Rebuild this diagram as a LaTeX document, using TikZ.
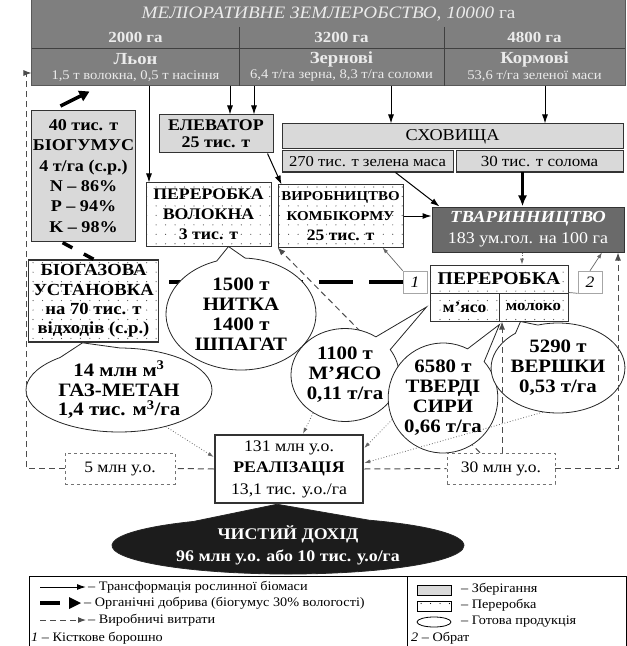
\documentclass[tikz,border=0pt]{standalone}
\usepackage{fontspec}
\setmainfont{Liberation Serif}[FakeStretch=1.1]
\usetikzlibrary{arrows.meta, shapes.geometric, shapes.callouts, patterns, calc}

\definecolor{fieldgray}{HTML}{7F7F7F}
\definecolor{stockgray}{HTML}{6A6A6A}
\definecolor{storegray}{HTML}{D9D9D9}
\definecolor{netblack}{HTML}{1C1C1C}

\pgfdeclarepatternformonly{sparsedots}{\pgfqpoint{-1pt}{-1pt}}{\pgfqpoint{10pt}{10pt}}{\pgfqpoint{9.5pt}{9.5pt}}%
  {\pgfpathcircle{\pgfqpoint{4.7pt}{4.7pt}}{0.6pt}\pgfusepath{fill}}

\newcommand{\fsize}[2]{\fontsize{#1}{#2}\selectfont}

\tikzset{
  box/.style={rectangle, draw=black!80, line width=1bp, inner sep=0pt, align=center},
  storebox/.style={box, fill=storegray},
  procbox/.style={box, preaction={fill=white}, pattern=sparsedots, pattern color=black!70},
  headtxt/.style={text=white!92!black, inner sep=0pt},
  numbox/.style={rectangle, draw=black!35, fill=white, line width=0.6bp, minimum width=24bp, minimum height=22bp, inner sep=0pt, font=\fsize{16}{18}\itshape},
  costbox/.style={box, fill=white, draw=black!55, dashed, line width=0.8bp, font=\fsize{16}{18}},
  bubble/.style={ellipse callout, draw=black!85, line width=0.8bp, fill=white, inner sep=0pt, align=center, callout pointer arc=22, font=\fsize{19}{20}\bfseries},
  bio/.style={-{Latex[length=9bp,width=6bp]}, line width=1bp},
  fert/.style={line width=3.5bp, dash pattern=on 34bp off 16bp},
  fertarr/.style={line width=3.5bp, -{Triangle[length=10bp,width=11bp]}},
  cost/.style={black!70, line width=1bp, dash pattern=on 6bp off 4bp},
  costarr/.style={cost, -{Latex[length=8bp,width=6bp]}},
  sale/.style={black!60, line width=0.8bp, dotted, -{Latex[length=6bp,width=4bp]}},
  link/.style={black!60, line width=0.7bp, -{Latex[length=6bp,width=4bp]}},
  legtxt/.style={anchor=west, inner sep=1bp, font=\fsize{13}{15}}
}

\begin{document}
\begin{tikzpicture}[x=1bp, y=-1bp]
  \useasboundingbox (0,0) rectangle (627,646);

  % Field (header)
  \node[box, fill=fieldgray, draw=black!65, minimum width=593bp, minimum height=86bp] (field) at (328.5,43) {};
  \draw[black!75, line width=0.8bp] (32,48) -- (625,48);
  \foreach \xcol in {239,444}
    \draw[black!75, line width=0.8bp] (\xcol,27) -- (\xcol,86);
  \node[headtxt, font=\fsize{17.5}{19}] (title) at (328.5,14) {\textit{МЕЛІОРАТИВНЕ ЗЕМЛЕРОБСТВО, 10000} га};
  \node[headtxt, font=\fsize{15.5}{17}\bfseries] (areaflax) at (135.5,37) {2000 га};
  \node[headtxt, font=\fsize{15.5}{17}\bfseries] (areagrain) at (341.5,37) {3200 га};
  \node[headtxt, font=\fsize{15.5}{17}\bfseries] (areafodder) at (534.5,37) {4800 га};
  \node[headtxt, font=\fsize{17}{19}\bfseries] (flax) at (135.5,59) {Льон};
  \node[headtxt, font=\fsize{17}{19}\bfseries] (grain) at (341.5,59) {Зернові};
  \node[headtxt, font=\fsize{17}{19}\bfseries] (fodder) at (534.5,59) {Кормові};
  \node[headtxt, font=\fsize{13.3}{15}] (flaxyield) at (135.5,76) {1,5 т волокна, 0,5 т насіння};
  \node[headtxt, font=\fsize{13.3}{15}] (grainyield) at (341.5,76) {6,4 т/га зерна, 8,3 т/га соломи};
  \node[headtxt, font=\fsize{13.3}{15}] (fodderyield) at (534.5,76) {53,6 т/га зеленої маси};

  % Storage
  \node[storebox, minimum width=114bp, minimum height=38bp, font=\fsize{16.3}{17.5}\bfseries] (elev) at (216,134) {ЕЛЕВАТОР\\25 тис. т};
  \node[storebox, minimum width=341bp, minimum height=25bp, font=\fsize{16.6}{19}] (store) at (452.5,136.5) {СХОВИЩА};
  \node[storebox, minimum width=171bp, minimum height=21bp, font=\fsize{15.2}{17}] (green) at (367.5,161.5) {270 тис. т зелена маса};
  \node[storebox, minimum width=167bp, minimum height=21bp, font=\fsize{15.5}{17}] (straw) at (539.5,161.5) {30 тис. т солома};
  \node[storebox, minimum width=103bp, minimum height=130bp, font=\fsize{16.5}{20.5}\bfseries] (biogum) at (83.5,176) {40 тис. т\\БІОГУМУС\\4 т/га (с.р.)\\N – 86\%\\P – 94\%\\K – 98\%};

  % Processing
  \node[procbox, minimum width=125bp, minimum height=63bp, font=\fsize{16.2}{20}\bfseries] (perevol) at (208.5,214.5) {ПЕРЕРОБКА\\ВОЛОКНА\\3 тис. т};
  \node[procbox, minimum width=125bp, minimum height=62bp, font=\fsize{13.6}{20}\bfseries] (vyrob) at (340.5,216) {ВИРОБНИЦТВО\\КОМБІКОРМУ\\{\fsize{16}{20}25 тис. т}};
  \node[box, fill=stockgray, minimum width=192bp, minimum height=45bp, text=white, font=\fsize{16.4}{21}] (stock) at (528,229.5) {{\fsize{17}{21}\bfseries\itshape ТВАРИННИЦТВО}\\183 ум.гол. на 100 га};
  \node[procbox, minimum width=138bp, minimum height=28bp, font=\fsize{18}{19}\bfseries] (proc) at (499,279) {ПЕРЕРОБКА};
  \node[procbox, minimum width=69bp, minimum height=28bp, font=\fsize{16}{17}\bfseries] (meat) at (464.5,307) {м’ясо};
  \node[procbox, minimum width=69bp, minimum height=28bp, font=\fsize{15.4}{17}\bfseries] (milk) at (533.5,307) {молоко};
  \node[numbox] (lab1) at (415,282) {1};
  \node[numbox] (lab2) at (590,282) {2};
  \node[procbox, line width=1.6bp, minimum width=130bp, minimum height=82bp, font=\fsize{17}{19.5}\bfseries] (biogas) at (93.5,301) {БІОГАЗОВА\\УСТАНОВКА\\на 70 тис. т\\відходів (с.р.)};

  % Sales and costs
  \node[box, fill=white, line width=2.5bp, minimum width=148bp, minimum height=68bp, font=\fsize{16.2}{21.5}] (real) at (289,469) {131 млн у.о.\\{\fsize{16.2}{21.5}\bfseries РЕАЛІЗАЦІЯ}\\13,1 тис. у.о./га};
  \node[costbox, minimum width=110bp, minimum height=31bp] (cost5) at (120,468.5) {5 млн у.о.};
  \node[costbox, minimum width=108bp, minimum height=31bp] (cost30) at (501,468.5) {30 млн у.о.};

  % Plant biomass flows
  \coordinate (flaxfibre) at (149,86);
  \coordinate (flaxseed) at (230,86);
  \coordinate (grainout) at (254,86);
  \coordinate (grainstraw) at (391,86);
  \coordinate (foddermass) at (545,86);
  \draw[bio] (flaxfibre) -- (flaxfibre |- perevol.north);
  \draw[bio] (flaxseed) -- (flaxseed |- elev.north);
  \draw[bio] (grainout) -- (grainout |- elev.north);
  \draw[bio] (grainstraw) -- (grainstraw |- store.north);
  \draw[bio] (foddermass) -- (foddermass |- store.north);
  \draw[bio] ([xshift=-6bp]elev.south east) -- ([xshift=4bp]vyrob.north west);
  \draw[bio] ([xshift=28bp]green.south) -- ([xshift=8bp]stock.north west);
  \coordinate (strawout) at ([xshift=-17bp]straw.south);
  \draw[line width=2.2bp, -{Latex[length=11bp,width=9bp]}] (strawout) -- (strawout |- stock.north);
  \draw[bio] (vyrob.east) -- (vyrob.east -| stock.west);
  \coordinate (stockdown) at ([xshift=-6bp]stock.south);
  \draw[sale] (stockdown) -- (stockdown |- proc.north);
  \draw[link] (lab1.north west) -- ([xshift=42bp]vyrob.south);
  \draw[black!60, line width=0.7bp] (milk.north east) -- (lab2.south west);
  \draw[link] (lab2.north) -- ([xshift=74bp]stock.south);

  % Organic fertiliser
  \draw[fert] (lab1.west) -- (lab1.west -| biogas.east);
  \draw[line width=3.5bp, dash pattern=on 11bp off 13bp] (biogas.north) -- ([xshift=-23bp]biogum.south);
  \coordinate (fertin) at ([xshift=58bp,yshift=-5bp]field.south west);
  \draw[fertarr, shorten <=10bp] ([xshift=-32bp]biogum.north) -- (fertin);

  % Cost to feed mill (under the bubbles)
  \draw[costarr] ([xshift=-21bp]cost30.north) -- (vyrob.south west);

  % Finished products
  \node[bubble, minimum width=150bp, minimum height=112bp, callout absolute pointer={([xshift=20bp]perevol.south)}] (yarn) at (241,314) {1500 т\\НИТКА\\1400 т\\ШПАГАТ};
  \node[bubble, minimum width=186bp, minimum height=84bp, callout pointer arc=40, callout absolute pointer={([xshift=-11bp]biogas.south)}] (methane) at (119,390) {14 млн м\textsuperscript{3}\\ГАЗ-МЕТАН\\1,4 тис. м\textsuperscript{3}/га};
  \node[bubble, minimum width=104bp, minimum height=93bp, callout absolute pointer={([xshift=-3bp]meat.west)}] (meatout) at (345,375) {1100 т\\М’ЯСО\\0,11 т/га};
  \node[bubble, minimum width=94bp, minimum height=110bp, callout absolute pointer={([xshift=-34bp,yshift=-3bp]milk.south)}] (cheese) at (443,398) {6580 т\\ТВЕРДІ\\СИРИ\\0,66 т/га};
  \node[bubble, minimum width=120bp, minimum height=90bp, callout absolute pointer={([xshift=-13bp]milk.south)}] (cream) at (558,368) {5290 т\\ВЕРШКИ\\0,53 т/га};
  \node[bubble, fill=netblack, text=white, minimum width=352bp, minimum height=57bp, callout pointer arc=60, callout absolute pointer={([xshift=-12bp]real.south)}, font=\fsize{16.3}{22}\bfseries] (net) at (288,545.5) {ЧИСТИЙ ДОХІД\\96 млн у.о. або 10 тис. у.о/га};

  % Sales flows
  \draw[sale] (methane.-38) -- ([yshift=12bp]real.west);
  \draw[sale] (meatout.-130) -- ([xshift=14bp]real.north);
  \draw[sale] (cheese.-157) -- ([yshift=21bp]real.east);
  \draw[sale] (cream.-109) -- ([yshift=6bp]real.east);

  % Production costs
  \draw[cost] (real.west) -- (cost5.east);
  \draw[cost] (real.east) -- (cost30.west);
  \coordinate (leftturn) at (26,73);
  \draw[costarr] (cost5.west) -| (leftturn) -- (leftturn -| field.west);
  \draw[costarr] (cost30.east) -| ([xshift=90bp]stock.south);
  \coordinate (procup) at ([xshift=1bp]cost30.north);
  \draw[costarr] (procup) -- (procup |- milk.south);

  % Legend
  \draw[line width=0.8bp] (29,648) |- (626,576) -- (626,648);
  \draw[line width=0.8bp] (407,576) -- (407,648);
  \draw[bio] (40,587) -- (86,587);
  \node[legtxt] (legbio) at (87,587) {– Трансформація рослинної біомаси};
  \draw[line width=4bp] (40,603) -- (60,603);
  \fill (69,597) -- (81,603) -- (69,609) -- cycle;
  \node[legtxt] (legfert) at (83,603) {– Органічні добрива (біогумус 30\% вологості)};
  \draw[costarr] (40,620) -- (86,620);
  \node[legtxt] (legcost) at (87,620) {– Виробничі витрати};
  \node[legtxt] (legone) at (30,638) {\textit{1} – Кісткове борошно};
  \draw[line width=0.8bp, fill=storegray] (417,585) rectangle (451,595);
  \node[legtxt] (legstore) at (460,589) {– Зберігання};
  \draw[line width=0.8bp, preaction={fill=white}, pattern=sparsedots] (417,601) rectangle (451,611);
  \node[legtxt] (legproc) at (460,605) {– Переробка};
  \draw[line width=0.8bp] (434,622) ellipse [x radius=17, y radius=5];
  \node[legtxt] (legprod) at (460,622) {– Готова продукція};
  \node[legtxt] (legtwo) at (410,638) {\textit{2} – Обрат};
\end{tikzpicture}
\end{document}
